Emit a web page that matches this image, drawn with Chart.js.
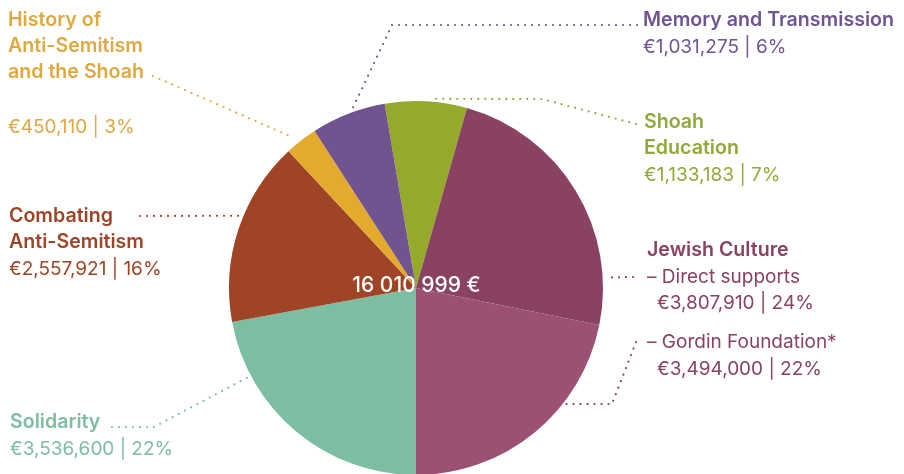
<!DOCTYPE html>
<html>
<head>
<meta charset="utf-8">
<script src="https://cdn.jsdelivr.net/npm/chart.js@4.4.1/dist/chart.umd.min.js"></script>
<style>
  html, body { margin: 0; padding: 0; background: #fff; }
  canvas { display: block; }
</style>
</head>
<body>
<canvas id="myChart" width="904" height="474"></canvas>
<script>
// CHART DATA (clockwise from the top)
const categories = ['Shoah Education', 'Jewish Culture – Direct supports', 'Jewish Culture – Gordin Foundation*',
    'Solidarity', 'Combating Anti-Semitism', 'History of Anti-Semitism and the Shoah', 'Memory and Transmission'];
const amounts = [1133183, 3807910, 3494000, 3536600, 2557921, 450110, 1031275];
const percents = [7, 24, 22, 22, 16, 3, 6];
const sliceColors = ['#95a92b', '#8a4263', '#9c5174', '#7dbda1', '#a04428', '#e3aa2e', '#70548f'];
const textColors = ['#8faa3a', '#8a4263', '#8a4263', '#7dbda1', '#a04428', '#e0a840', '#6f5496'];

const FONT = 'Inter, Lato, sans-serif';

// HELPERS
const euro = function (n) {
    return '€' + n.toLocaleString('en-US');
}
const valueText = function (i) {
    return euro(amounts[i]) + ' | ' + percents[i] + '%';
}
const totalText = function () {
    let total = amounts.reduce((a, b) => a + b, 0);
    return total.toLocaleString('en-US').replace(/,/g, ' ') + ' €';
}

// label text blocks: [text, x, baseline, bold]
const labels = [
    {slice: 0, lines: [['Shoah', 644, 128, true], ['Education', 644, 154, true], [valueText(0), 644, 181, false]]},
    {slice: 1, lines: [['Jewish Culture', 647, 256, true], ['– Direct supports', 647, 283, false], [valueText(1), 657, 309, false]]},
    {slice: 2, lines: [['– Gordin Foundation*', 647, 348, false], [valueText(2), 657, 375, false]]},
    {slice: 3, lines: [['Solidarity', 10, 428, true], [valueText(3), 10, 455, false]]},
    {slice: 4, lines: [['Combating', 9, 222, true], ['Anti-Semitism', 9, 248, true], [valueText(4), 9, 275, false]]},
    {slice: 5, lines: [['History of', 8, 26, true], ['Anti-Semitism', 8, 52, true], ['and the Shoah', 8, 78, true], [valueText(5), 8, 133, false]]},
    {slice: 6, lines: [['Memory and Transmission', 643, 26, true], [valueText(6), 643, 53, false]]}
];

// leader lines: points from the label side, then where it meets the slice
// (pos = fraction through the slice, gap = px beyond the outer radius)
const leaders = [
    {slice: 0, pts: [[636, 124], [542, 99]], pos: 0.58, gap: 3},
    {slice: 1, pts: [[633, 277]], pos: 0.83, gap: 5},
    {slice: 2, pts: [[636, 342], [612, 404]], pos: 0.34, gap: 1},
    {slice: 3, pts: [[112, 427], [154, 427]], pos: 0.78, gap: 2},
    {slice: 4, pts: [[140, 216]], pos: 0.575, gap: 1},
    {slice: 5, pts: [[153, 76]], pos: 0.37, gap: 7},
    {slice: 6, pts: [[637, 25], [392, 25]], pos: 0.56, gap: 2}
];

const labelPlugin = {
    id: 'labelPlugin',
    afterDraw(chart) {
        const ctx = chart.ctx;
        const arcs = chart.getDatasetMeta(0).data;

        // leaders
        _leaders(ctx, arcs);

        // total in the middle
        const c = arcs[0];
        ctx.save();
        ctx.fillStyle = '#ffffff';
        ctx.font = '500 21px ' + FONT;
        ctx.textAlign = 'center';
        ctx.textBaseline = 'alphabetic';
        ctx.fillText(totalText(), c.x + 0.5, c.y + 4);
        ctx.restore();

        // labels
        ctx.save();
        ctx.textAlign = 'left';
        ctx.textBaseline = 'alphabetic';
        labels.forEach(function (lab) {
            ctx.fillStyle = textColors[lab.slice];
            lab.lines.forEach(function (l) {
                ctx.font = l[3] ? '600 19.6px ' + FONT : '400 19px ' + FONT;
                ctx.fillText(l[0], l[1], l[2]);
            });
        });
        ctx.restore();
    }
};

function _leaders(ctx, arcs) {
    ctx.save();
    ctx.lineWidth = 2.2;
    ctx.lineCap = 'round';
    ctx.setLineDash([0, 7]);
    leaders.forEach(function (ld) {
        const arc = arcs[ld.slice];
        const a = arc.startAngle + (arc.endAngle - arc.startAngle) * ld.pos;
        const r = arc.outerRadius + ld.gap;
        ctx.strokeStyle = textColors[ld.slice];
        ctx.beginPath();
        ctx.moveTo(ld.pts[0][0], ld.pts[0][1]);
        for (let i = 1; i < ld.pts.length; i++) {
            ctx.lineTo(ld.pts[i][0], ld.pts[i][1]);
        }
        ctx.lineTo(arc.x + r * Math.cos(a), arc.y + r * Math.sin(a));
        ctx.stroke();
    });
    ctx.restore();
}

// start angle so that the Gordin / Solidarity edge sits straight down
const total = amounts.reduce((a, b) => a + b, 0);
const beforeSolidarity = amounts[0] + amounts[1] + amounts[2];
const rotation = 180 - beforeSolidarity / total * 360;

let chart = new Chart(document.getElementById('myChart'), {
    type: 'pie',
    data: {
        labels: categories,
        datasets: [{
            data: amounts,
            backgroundColor: sliceColors,
            borderWidth: 0
        }]
    },
    options: {
        responsive: false,
        animation: false,
        rotation: rotation,
        radius: 187,
        layout: {padding: {left: 229, right: 301, top: 102, bottom: 0}},
        plugins: {
            legend: {display: false},
            tooltip: {enabled: false}
        }
    },
    plugins: [labelPlugin]
});
</script>
</body>
</html>
